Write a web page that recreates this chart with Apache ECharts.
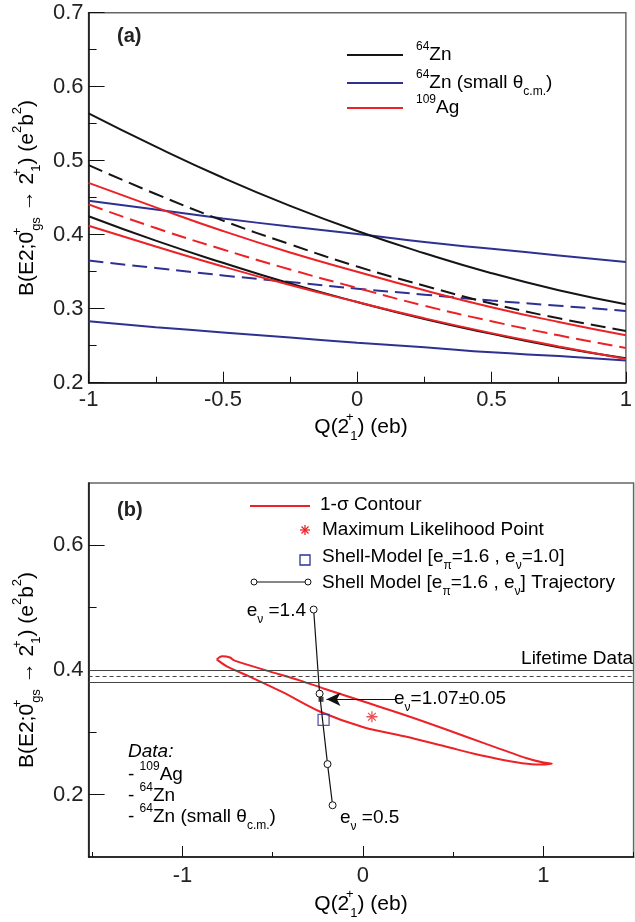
<!DOCTYPE html>
<html><head><meta charset="utf-8">
<script src="https://cdn.jsdelivr.net/npm/echarts@6/dist/echarts.min.js"></script>
<style>html,body{margin:0;padding:0;background:#fff}#c{width:635px;height:922px}</style>
</head><body><div id="c"></div>
<script>
// ---------- Panel (a) data ----------
const qA = [-1, -0.75, -0.5, -0.25, 0, 0.25, 0.5, 0.75, 1];
const zn64Upper   = [0.564, 0.519, 0.477, 0.439, 0.405, 0.375, 0.348, 0.325, 0.306];
const zn64Central = [0.494, 0.455, 0.419, 0.387, 0.357, 0.331, 0.307, 0.287, 0.270];
const zn64Lower   = [0.425, 0.392, 0.362, 0.334, 0.309, 0.286, 0.266, 0.248, 0.233];
const zn64SmallUpper   = [0.446, 0.434, 0.422, 0.411, 0.401, 0.390, 0.381, 0.372, 0.363];
const zn64SmallCentral = [0.365, 0.355, 0.345, 0.336, 0.327, 0.319, 0.311, 0.304, 0.297];
const zn64SmallLower   = [0.283, 0.275, 0.268, 0.261, 0.254, 0.248, 0.241, 0.236, 0.230];
const ag109Upper   = [0.470, 0.437, 0.405, 0.376, 0.350, 0.325, 0.302, 0.282, 0.264];
const ag109Central = [0.441, 0.409, 0.380, 0.353, 0.328, 0.304, 0.283, 0.264, 0.247];
const ag109Lower   = [0.412, 0.384, 0.357, 0.332, 0.309, 0.287, 0.267, 0.249, 0.232];
const xTicksA = [-1, -0.5, 0, 0.5, 1];
const yTicksA = [0.2, 0.3, 0.4, 0.5, 0.6, 0.7];

// ---------- Panel (b) data ----------
const contourQ = [-0.81, -0.78, -0.736, -0.714, -0.532, -0.347, -0.214, 0.008, 0.236, 0.458, 0.686, 0.908, 1.0, 1.047, 0.978, 0.686, 0.458, 0.236, 0.008, -0.236, -0.442, -0.625, -0.754, -0.81];
const contourB = [0.417, 0.422, 0.420, 0.4154, 0.399, 0.383, 0.370, 0.349, 0.3275, 0.305, 0.281, 0.2585, 0.2515, 0.2498, 0.2482, 0.2611, 0.2772, 0.2932, 0.3077, 0.333, 0.364, 0.389, 0.4058, 0.417];
const maxLikelihood = [0.05, 0.325];
const shellModel = [-0.218, 0.320];
const trajQ = [-0.273, -0.240, -0.196, -0.168];
const trajB = [0.497, 0.362, 0.249, 0.183];
const trajE = [1.4, 1.1, 0.8, 0.5];
const bestE = [-0.232, 0.353];         // e_nu = 1.07 point
const arrowFromQ = 0.18;
const lifetime = [0.376, 0.389, 0.402]; // lower, mean, upper
const xTicksB = [-1, 0, 1];
const xMinorB = [-1.5, -0.5, 0.5, 1.5];
const yTicksB = [0.2, 0.4, 0.6];
const yMinorB = [0.3, 0.5];

const F = "'Liberation Sans', Arial, sans-serif";
const BLACK = '#151515', BLUE = '#2e3192', RED = '#ec2227', TXT = '#222';

const chart = echarts.init(document.getElementById('c'), null, {renderer: 'canvas'});

function rich(S) {
  const s = Math.round(S * 0.62);
  return {
    n:   {fontSize: S, fontFamily: F, color: TXT, lineHeight: Math.round(S * 1.5), verticalAlign: 'middle'},
    i:   {fontSize: S, fontFamily: F, color: TXT, lineHeight: Math.round(S * 1.5), verticalAlign: 'middle', fontStyle: 'italic'},
    sup: {fontSize: s, fontFamily: F, color: TXT, lineHeight: Math.round(S * 0.9), verticalAlign: 'top'},
    sup0:{fontSize: s, fontFamily: F, color: TXT, lineHeight: Math.round(S * 0.9), verticalAlign: 'top', width: 1},
    sub: {fontSize: s, fontFamily: F, color: TXT, lineHeight: Math.round(S * 0.6), verticalAlign: 'bottom'}
  };
}
const yTitle = '{n|B(E2;0}{sup0|+}{sub|gs}{n| → 2}{sup0|+}{sub|1}{n|) (e}{sup|2}{n|b}{sup|2}{n|)}';
const xTitle = '{n|Q(2}{sup0|+}{sub|1}{n|) (eb)}';

const pairs = arr => qA.map((q, i) => [q, arr[i]]);
function aLine(name, arr, color, dashed) {
  return {name, type: 'line', xAxisIndex: 0, yAxisIndex: 0, data: pairs(arr), smooth: true, symbol: 'none',
    lineStyle: {color, width: 2, type: dashed ? [15, 7] : 'solid'}, z: 3, silent: true};
}

const axisLine = {show: true, onZero: false, lineStyle: {color: '#111', width: 1.5}};
const noLine = {show: false, onZero: false};
const labelStyle = {fontSize: 22, fontFamily: F, color: TXT};

const option = {
  animation: false,
  backgroundColor: '#fff',
  grid: [
    {left: 88.6, top: 12.7, width: 544.4, height: 370, show: true, borderColor: '#666', borderWidth: 1.5},
    {left: 88.6, top: 483, width: 545, height: 374, show: true, borderColor: '#666', borderWidth: 1.5}
  ],
  xAxis: [
    {gridIndex: 0, type: 'value', position: 'bottom', min: -1, max: 1, interval: 0.5, axisLine,
      axisTick: {inside: true, length: 11, lineStyle: {color: '#111'}},
      minorTick: {show: true, splitNumber: 2, length: 6, lineStyle: {color: '#111'}},
      splitLine: {show: false}, minorSplitLine: {show: false},
      axisLabel: Object.assign({margin: 6, customValues: xTicksA}, labelStyle)},
    {gridIndex: 1, type: 'value', position: 'bottom', min: -1.52, max: 1.5, axisLine,
      axisTick: {inside: true, length: 11, customValues: xTicksB, lineStyle: {color: '#111'}},
      splitLine: {show: false},
      axisLabel: Object.assign({margin: 8, customValues: xTicksB}, labelStyle)},
    {gridIndex: 1, type: 'value', position: 'bottom', offset: 0, min: -1.52, max: 1.5, axisLine: noLine,
      axisTick: {inside: true, length: 5, customValues: xMinorB, lineStyle: {color: '#111'}},
      splitLine: {show: false}, axisLabel: {show: false}}
  ],
  yAxis: [
    {gridIndex: 0, type: 'value', position: 'left', min: 0.2, max: 0.7, interval: 0.1, axisLine,
      axisTick: {inside: true, length: 16, lineStyle: {color: '#111'}},
      minorTick: {show: true, splitNumber: 2, length: 8, lineStyle: {color: '#111'}},
      splitLine: {show: false}, minorSplitLine: {show: false},
      axisLabel: Object.assign({margin: 5, customValues: yTicksA}, labelStyle)},
    {gridIndex: 1, type: 'value', position: 'left', min: 0.1, max: 0.7, axisLine,
      axisTick: {inside: true, length: 16, customValues: yTicksB, lineStyle: {color: '#111'}},
      splitLine: {show: false},
      axisLabel: Object.assign({margin: 5, customValues: yTicksB}, labelStyle)},
    {gridIndex: 1, type: 'value', position: 'left', offset: 0, min: 0.1, max: 0.7, axisLine: noLine,
      axisTick: {inside: true, length: 8, customValues: yMinorB, lineStyle: {color: '#111'}},
      splitLine: {show: false}, axisLabel: {show: false}}
  ],
  series: [
    aLine('64Zn small upper', zn64SmallUpper, BLUE, false),
    aLine('64Zn small central', zn64SmallCentral, BLUE, true),
    aLine('64Zn small lower', zn64SmallLower, BLUE, false),
    aLine('64Zn upper', zn64Upper, BLACK, false),
    aLine('64Zn central', zn64Central, BLACK, true),
    aLine('64Zn lower', zn64Lower, BLACK, false),
    aLine('109Ag upper', ag109Upper, RED, false),
    aLine('109Ag central', ag109Central, RED, true),
    aLine('109Ag lower', ag109Lower, RED, false),
    {name: 'contour', type: 'line', xAxisIndex: 1, yAxisIndex: 1, smooth: 0.3, symbol: 'none', silent: true,
      data: contourQ.map((q, i) => [q, contourB[i]]),
      lineStyle: {color: RED, width: 2}, z: 3,
      markLine: {symbol: 'none', silent: true, label: {show: false}, animation: false,
        lineStyle: {color: '#444', width: 1},
        data: [
          {yAxis: lifetime[0], lineStyle: {type: 'solid', color: '#444', width: 1}},
          {yAxis: lifetime[1], lineStyle: {type: [4, 3], color: '#444', width: 1}},
          {yAxis: lifetime[2], lineStyle: {type: 'solid', color: '#444', width: 1}}
        ]}},
    {name: 'trajectory', type: 'line', xAxisIndex: 1, yAxisIndex: 1, silent: true,
      data: trajQ.map((q, i) => [q, trajB[i], trajE[i]]),
      symbol: 'circle', symbolSize: 7, showAllSymbol: true,
      itemStyle: {color: '#fff', borderColor: '#111', borderWidth: 1},
      lineStyle: {color: '#111', width: 1.2}, z: 4,
      markLine: {silent: true, symbol: ['none', 'arrow'], symbolSize: [10, 14], label: {show: false},
        lineStyle: {color: '#111', width: 1.2, type: 'solid'},
        data: [[{coord: [arrowFromQ, bestE[1]]}, {coord: [bestE[0] + 0.03, bestE[1]]}]]}},
    {name: 'best e', type: 'scatter', xAxisIndex: 1, yAxisIndex: 1, silent: true,
      data: [bestE], symbol: 'rect', symbolSize: 5, itemStyle: {color: '#111'}, z: 5},
    {name: 'shell model', type: 'scatter', xAxisIndex: 1, yAxisIndex: 1, silent: true,
      data: [shellModel], symbol: 'rect', symbolSize: 11,
      itemStyle: {color: 'rgba(0,0,0,0)', borderColor: BLUE, borderWidth: 1.3}, z: 5},
    {name: 'max likelihood', type: 'scatter', xAxisIndex: 1, yAxisIndex: 1, silent: true,
      data: [maxLikelihood], symbol: 'path://M5,0L5,10M0,5L10,5M1.5,1.5L8.5,8.5M1.5,8.5L8.5,1.5', symbolSize: 11,
      itemStyle: {color: 'rgba(0,0,0,0)', borderColor: RED, borderWidth: 1.3}, z: 5}
  ],
  graphic: [
    {type: 'text', x: 117, y: 36, style: {text: '(a)', font: 'bold 20px ' + F, fill: TXT, verticalAlign: 'middle'}},
    {type: 'text', x: 117, y: 510, style: {text: '(b)', font: 'bold 20px ' + F, fill: TXT, verticalAlign: 'middle'}},
    {type: 'text', x: 27, y: 198, rotation: Math.PI / 2, style: {text: yTitle, rich: rich(21), align: 'center', verticalAlign: 'middle'}},
    {type: 'text', x: 27, y: 670, rotation: Math.PI / 2, style: {text: yTitle, rich: rich(21), align: 'center', verticalAlign: 'middle'}},
    {type: 'text', x: 361, y: 427, style: {text: xTitle, rich: rich(21), align: 'center', verticalAlign: 'middle'}},
    {type: 'text', x: 361, y: 904, style: {text: xTitle, rich: rich(21), align: 'center', verticalAlign: 'middle'}},
    {type: 'line', shape: {x1: 347, y1: 55, x2: 403, y2: 55}, style: {stroke: BLACK, lineWidth: 2}},
    {type: 'line', shape: {x1: 347, y1: 83, x2: 403, y2: 83}, style: {stroke: BLUE, lineWidth: 2}},
    {type: 'line', shape: {x1: 347, y1: 108, x2: 403, y2: 108}, style: {stroke: RED, lineWidth: 2}},
    {type: 'text', x: 416, y: 55, style: {text: '{sup|64}{n|Zn}', rich: rich(19), verticalAlign: 'middle'}},
    {type: 'text', x: 416, y: 83, style: {text: '{sup|64}{n|Zn (small θ}{sub|c.m.}{n|)}', rich: rich(19), verticalAlign: 'middle'}},
    {type: 'text', x: 416, y: 108, style: {text: '{sup|109}{n|Ag}', rich: rich(19), verticalAlign: 'middle'}},
    {type: 'line', shape: {x1: 250, y1: 506, x2: 310, y2: 506}, style: {stroke: RED, lineWidth: 2}},
    {type: 'line', shape: {x1: 305, y1: 525, x2: 305, y2: 535}, style: {stroke: RED, lineWidth: 1.3}},
    {type: 'line', shape: {x1: 300, y1: 530, x2: 310, y2: 530}, style: {stroke: RED, lineWidth: 1.3}},
    {type: 'line', shape: {x1: 301.5, y1: 526.5, x2: 308.5, y2: 533.5}, style: {stroke: RED, lineWidth: 1.3}},
    {type: 'line', shape: {x1: 301.5, y1: 533.5, x2: 308.5, y2: 526.5}, style: {stroke: RED, lineWidth: 1.3}},
    {type: 'rect', shape: {x: 300, y: 555, width: 10, height: 10}, style: {fill: 'none', stroke: BLUE, lineWidth: 1.3}},
    {type: 'line', shape: {x1: 254, y1: 582, x2: 308, y2: 582}, style: {stroke: '#111', lineWidth: 1.2}},
    {type: 'circle', shape: {cx: 254, cy: 582, r: 3}, style: {fill: '#fff', stroke: '#111', lineWidth: 1}},
    {type: 'circle', shape: {cx: 308, cy: 582, r: 3}, style: {fill: '#fff', stroke: '#111', lineWidth: 1}},
    {type: 'text', x: 320, y: 505, style: {text: '{n|1-σ Contour}', rich: rich(19), verticalAlign: 'middle'}},
    {type: 'text', x: 322, y: 530, style: {text: '{n|Maximum Likelihood Point}', rich: rich(19), verticalAlign: 'middle'}},
    {type: 'text', x: 322, y: 557, style: {text: '{n|Shell-Model [e}{sub|π}{n|=1.6 , e}{sub|ν}{n|=1.0]}', rich: rich(19), verticalAlign: 'middle'}},
    {type: 'text', x: 322, y: 583, style: {text: '{n|Shell Model [e}{sub|π}{n|=1.6 , e}{sub|ν}{n|] Trajectory}', rich: rich(19), verticalAlign: 'middle'}},
    {type: 'text', x: 306, y: 611, style: {text: '{n|e}{sub|ν}{n| =1.4}', rich: rich(19), align: 'right', verticalAlign: 'middle'}},
    {type: 'text', x: 340, y: 818, style: {text: '{n|e}{sub|ν}{n| =0.5}', rich: rich(19), verticalAlign: 'middle'}},
    {type: 'text', x: 394, y: 699, style: {text: '{n|e}{sub|ν}{n|=1.07±0.05}', rich: rich(19), verticalAlign: 'middle'}},
    {type: 'text', x: 633, y: 659, style: {text: '{n|Lifetime Data}', rich: rich(19), align: 'right', verticalAlign: 'middle'}},
    {type: 'text', x: 128, y: 752, style: {text: '{i|Data:}', rich: rich(19), verticalAlign: 'middle'}},
    {type: 'text', x: 128, y: 775, style: {text: '{n|- }{sup|109}{n|Ag}', rich: rich(19), verticalAlign: 'middle'}},
    {type: 'text', x: 128, y: 796, style: {text: '{n|- }{sup|64}{n|Zn}', rich: rich(19), verticalAlign: 'middle'}},
    {type: 'text', x: 128, y: 817, style: {text: '{n|- }{sup|64}{n|Zn (small θ}{sub|c.m.}{n|)}', rich: rich(19), verticalAlign: 'middle'}}
  ]
};
chart.setOption(option);
</script>
</body></html>
